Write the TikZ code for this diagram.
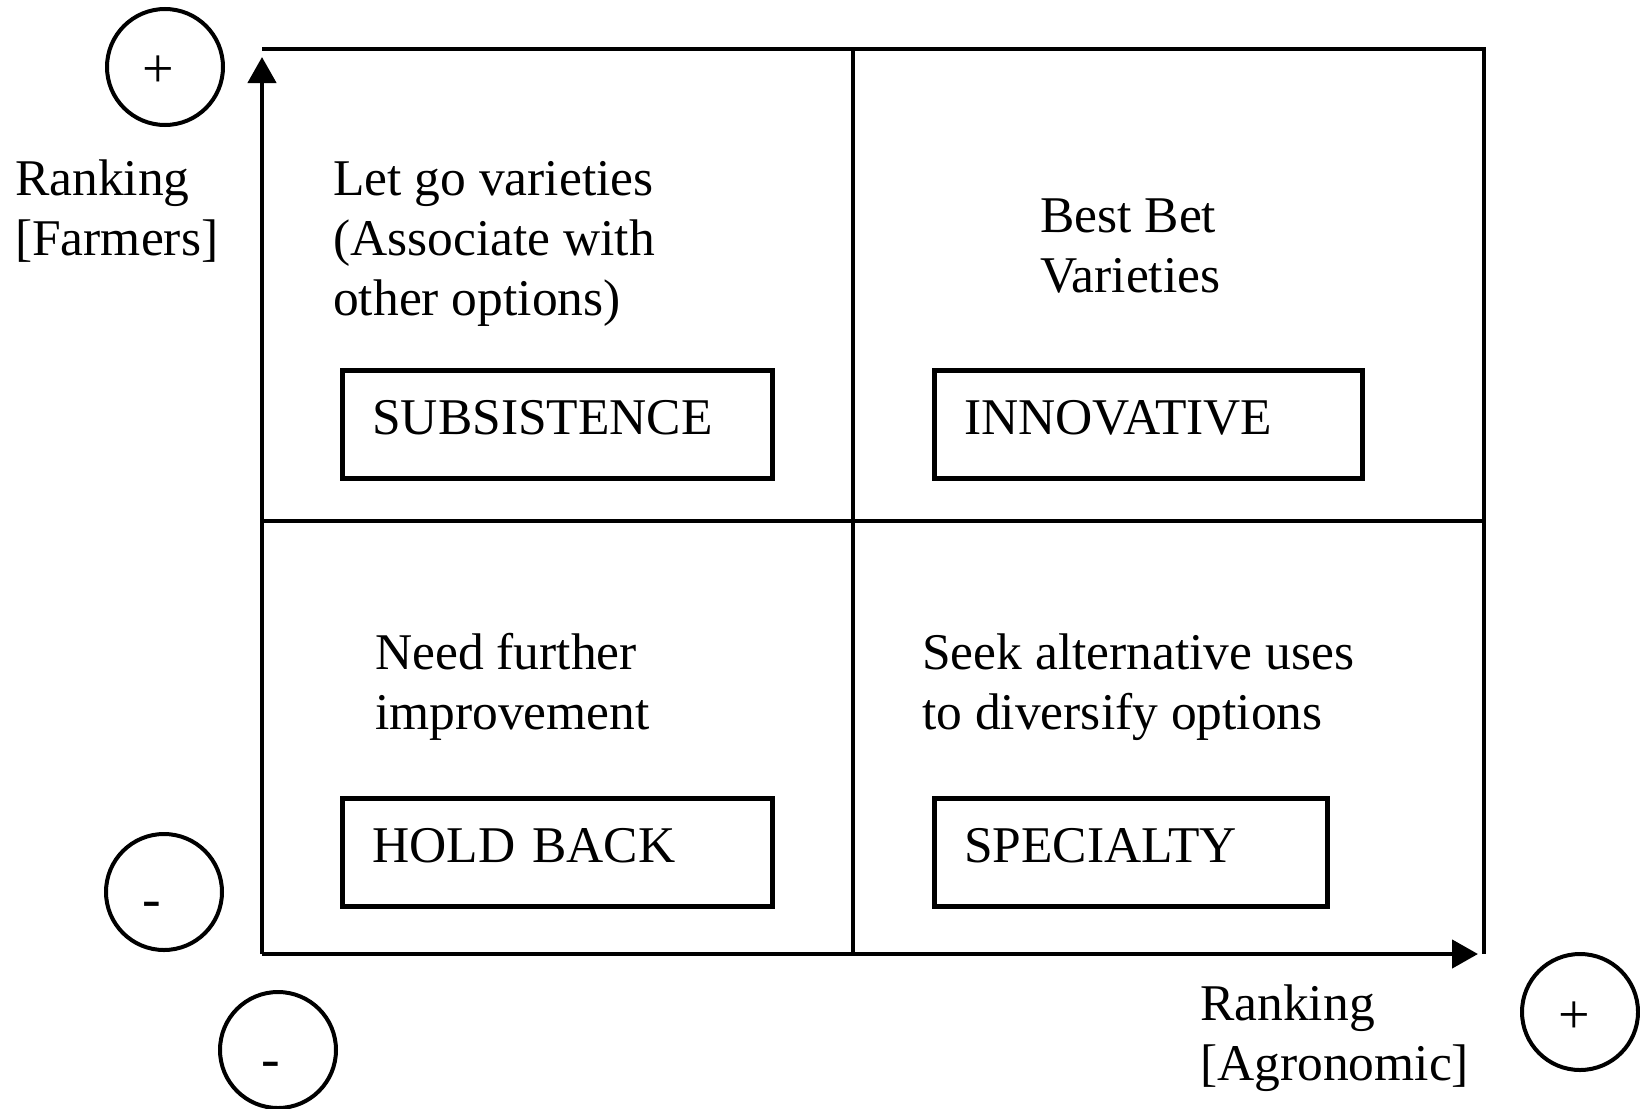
\documentclass[tikz,border=0pt]{standalone}
\usepackage{fontspec}
\setmainfont{Liberation Serif}
\usetikzlibrary{arrows.meta}
\begin{document}
\begin{tikzpicture}[x=1pt,y=-1pt,
  every node/.style={font=\fontsize{51.5}{60}\selectfont, inner sep=0pt},
  txt/.style={anchor=base west, align=left},
  qbox/.style={draw, line width=4.5pt, minimum height=108pt, text height=40pt, text depth=20pt,
    inner xsep=30pt, inner ysep=0pt, align=left, anchor=north west, text width=#1},
  signc/.style={draw, circle, line width=4pt, minimum size=116pt},
  sign/.style={anchor=base, font=\fontsize{56}{60}\selectfont},
  axis/.style={line width=4.5pt, -{Triangle[width=28pt,length=26pt]}}]
\useasboundingbox (0,0) rectangle (1640,1108);
% main frame
\coordinate (O) at (262,954);
\coordinate (TL) at (262,49);
\coordinate (BR) at (1484,954);
\coordinate (TR) at (1484,49);
\draw[line width=4.5pt] (TL) -- (TR) -- (BR);
\draw[line width=4.5pt] (853,49) -- (853,954);
\draw[line width=4.5pt] (262,521) -- (1484,521);
\draw[axis] (O) -- (262,57);
\draw[axis] (O) -- (1478,954);
% circles
\node[signc] (cpy) at (165,67) {};
\node[signc] (cmy) at (164,892) {};
\node[signc] (cmx) at (278,1050) {};
\node[signc] (cpx) at (1580,1012) {};
\node[sign] (spy) at (158,88) {+};
\node[sign] (smy) at (152,917) {-};
\node[sign] (smx) at (271,1077) {-};
\node[sign] (spx) at (1574,1033) {+};
% axis labels (anchor = baseline of last line)
\node[txt] (ly) at (15,255) {Ranking\\{}[Farmers]};
\node[txt] (lx) at (1200,1080) {Ranking\\{}[Agronomic]};
% quadrant texts
\node[txt] (t1) at (333,315) {Let go varieties\\(Associate with\\other options)};
\node[txt] (t2) at (1040,292) {Best Bet\\Varieties};
\node[txt] (t3) at (375,729) {Need further\\improvement};
\node[txt] (t4) at (922,729) {Seek alternative uses\\to diversify options};
% boxes
\node[qbox=370pt] (b1) at (340,368) {SUBSISTENCE};
\node[qbox=368pt] (b2) at (932,368) {INNOVATIVE};
\node[qbox=370pt] (b3) at (340,796) {HOLD BACK};
\node[qbox=333pt] (b4) at (932,796) {SPECIALTY};
\end{tikzpicture}
\end{document}
